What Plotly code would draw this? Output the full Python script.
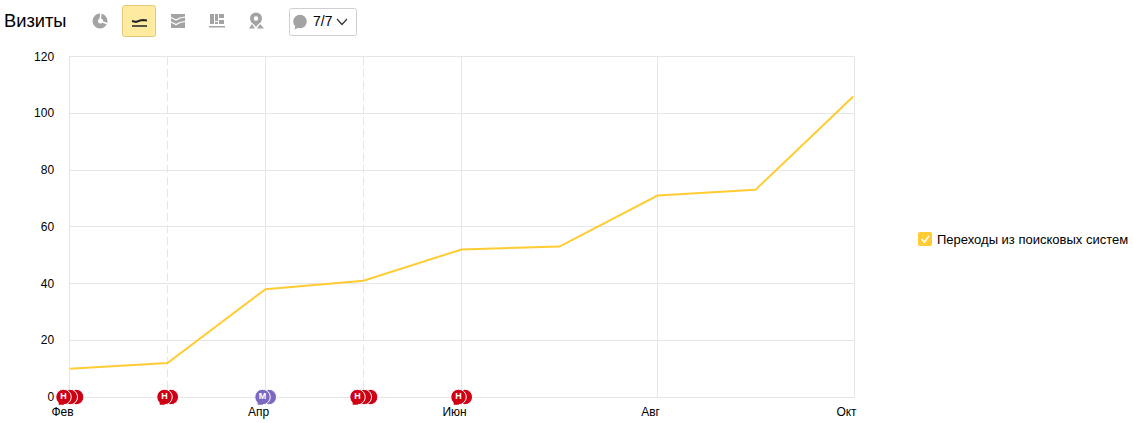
import plotly.graph_objects as go

months = ["Фев", "Мар", "Апр", "Май", "Июн", "Июл", "Авг", "Сен", "Окт"]
visits = [10, 12, 38, 41, 52, 53, 71, 73, 106]
labelled_months = [0, 2, 4, 6, 8]
dashed_months = [1, 3]
y_ticks = [0, 20, 40, 60, 80, 100, 120]
series_name = "Переходы из поисковых систем"
note_month = [0, 1, 2, 3, 4]
note_count = [3, 2, 2, 3, 2]
note_letter = ["Н", "Н", "М", "Н", "Н"]
note_color = ["#cf0014", "#cf0014", "#7b68c0", "#cf0014", "#cf0014"]

W, H = 1133, 423
L, R, T, B = 69.5, 853.5, 56.5, 397
YMAX = y_ticks[-1]
def px(x): return x / W
def py(y): return 1 - y / H

YELLOW = "#ffcc33"
GRID = "#e6e6e6"
GREY = "#a3a3a3"

ux = (R - L) / (len(months) - 1)   # pixels per month
uy = (B - T) / YMAX                # pixels per visit

fig = go.Figure()
fig.add_trace(go.Scatter(x=list(range(len(months))), y=visits, mode="lines",
                         line=dict(color=YELLOW, width=2), showlegend=False, hoverinfo="skip",
                         cliponaxis=False))

# Note bubbles sit on a transparent overlay axis pair with the same scale as the main
# axes but spanning the whole page, so they may overhang the plot area.
for m, n, letter, col in zip(note_month, note_count, note_letter, note_color):
    start = m - (n - 1) * 3 / ux
    xs = [start + i * 6.3 / ux for i in reversed(range(n))]
    common = dict(xaxis="x2", yaxis="y2", showlegend=False, hoverinfo="skip")
    fig.add_trace(go.Scatter(x=xs, y=[0] * n, mode="markers", **common,
                             marker=dict(size=15.5, color=col, line=dict(color="white", width=1))))
    fig.add_trace(go.Scatter(x=[start - 3 / ux], y=[-6 / uy], mode="markers", **common,
                             marker=dict(symbol="triangle-sw", size=6, color=col, line=dict(width=0))))
    fig.add_trace(go.Scatter(x=[start], y=[0], mode="text", text=[f"<b>{letter}</b>"], **common,
                             textfont=dict(color="white", size=9, family="Liberation Sans"),
                             textposition="middle center"))

shapes = []
def rect(x0, y0, x1, y1, fill):
    shapes.append(dict(type="rect", xref="paper", yref="paper", x0=px(x0), x1=px(x1), y0=py(y0), y1=py(y1),
                       fillcolor=fill, line=dict(width=0), layer="above"))
def rrect(x0, y0, x1, y1, r, fill, line=None, w=1):
    d = (f"M{px(x0+r)},{py(y0)} L{px(x1-r)},{py(y0)} Q{px(x1)},{py(y0)} {px(x1)},{py(y0+r)} "
         f"L{px(x1)},{py(y1-r)} Q{px(x1)},{py(y1)} {px(x1-r)},{py(y1)} L{px(x0+r)},{py(y1)} "
         f"Q{px(x0)},{py(y1)} {px(x0)},{py(y1-r)} L{px(x0)},{py(y0+r)} Q{px(x0)},{py(y0)} {px(x0+r)},{py(y0)} Z")
    shapes.append(dict(type="path", xref="paper", yref="paper", path=d, fillcolor=fill,
                       line=dict(color=line or fill, width=w if line else 0), layer="above"))
def poly(pts, color, width=2, fill=None, close=False):
    d = "M" + " L".join(f"{px(x)},{py(y)}" for x, y in pts) + (" Z" if close else "")
    shapes.append(dict(type="path", xref="paper", yref="paper", path=d,
                       fillcolor=fill if fill else "rgba(0,0,0,0)",
                       line=dict(color=color, width=width), layer="above"))
def circle(cx, cy, r, fill):
    shapes.append(dict(type="circle", xref="paper", yref="paper", x0=px(cx-r), x1=px(cx+r), y0=py(cy+r), y1=py(cy-r),
                       fillcolor=fill, line=dict(width=0), layer="above"))

# pie icon
circle(100, 21, 7.5, GREY)
circle(100.5, 21, 2.5, "white")
poly([(100, 21), (101, 13), (103, 13)], "white", 1.5)
poly([(100, 21), (108, 24)], "white", 1.5)
# active line button
rrect(122.5, 5.5, 155.5, 36.5, 2, "#ffeba0", "#e2c877")
poly([(132, 21), (136, 22), (140, 20.5), (143, 20), (147, 20.5)], "#222222", 2)
poly([(132, 26), (147, 26)], "#222222", 1.5)
# stacked area icon
rect(171, 14, 185, 28, GREY)
for y in (18.5, 23):
    poly([(171, y - 1), (176, y + 1.5), (180, y - 0.5), (185, y - 1.5)], "white", 1.2)
# bar icon
rect(210, 14, 214, 24, GREY)
rect(215, 14, 218, 21, GREY)
rect(215, 22, 218, 24, GREY)
rect(219, 14, 224, 18, GREY)
rect(219, 20, 224, 24, GREY)
rect(209, 26, 225, 27.5, GREY)
# map pin icon
circle(256, 18.5, 6, GREY)
circle(256, 18.5, 2.3, "white")
poly([(251, 21), (256, 27), (261, 21)], GREY, 0, GREY, True)
poly([(249, 28.5), (252, 24), (255, 28.5)], GREY, 0, GREY, True)
poly([(257, 28.5), (260, 24), (264, 28.5)], GREY, 0, GREY, True)
# notes button
rrect(289.5, 8.5, 356.5, 35.5, 2, "white", "#cfcfcf")
circle(300, 21.5, 6.8, GREY)
poly([(294.5, 29.5), (296, 24), (300, 27)], GREY, 0, GREY, True)
poly([(337, 19), (342, 24.5), (347, 19)], "#333333", 1.2)
# legend checkbox
rrect(918, 232, 932, 246, 2, YELLOW)
poly([(921.5, 239), (924.5, 242), (929, 236)], "white", 1.6)

def label(text, x, y, size):
    return dict(text=text, x=px(x), y=py(y), xref="paper", yref="paper", xanchor="left", yanchor="middle",
                showarrow=False, font=dict(size=size, color="#000000"), borderpad=0)

annotations = [
    label("Визиты", 3, 21, 18.3),
    label("7/7", 312, 21, 14),
    label(series_name, 936, 239.5, 13),
]

hidden = dict(visible=False, showgrid=False, zeroline=False, domain=[0, 1], automargin=False)
fig.update_layout(
    width=W, height=H, autosize=False,
    margin=dict(l=0, r=0, t=0, b=0, pad=0, autoexpand=False),
    paper_bgcolor="white", plot_bgcolor="rgba(0,0,0,0)",
    font=dict(family="Liberation Sans, Arial, sans-serif", size=12, color="#000000"),
    shapes=shapes, annotations=annotations, showlegend=False,
    xaxis=dict(domain=[px(L), px(R)], range=[0, len(months) - 1], tickmode="array", tickvals=labelled_months,
               ticktext=[months[i] for i in labelled_months], showgrid=True, gridcolor=GRID, gridwidth=1,
               zeroline=False, showline=True, mirror=True, linecolor=GRID, linewidth=1, ticks="",
               ticklabelshift=-7, ticklabelstandoff=4, tickfont=dict(size=12), automargin=False,
               minor=dict(tickmode="array", tickvals=dashed_months, showgrid=True, gridcolor=GRID,
                          griddash="8px,4px", gridwidth=1, ticks="")),
    yaxis=dict(domain=[py(B), py(T)], range=[0, YMAX], tickmode="array", tickvals=y_ticks, showgrid=True,
               gridcolor=GRID, gridwidth=1, zeroline=False, showline=True, mirror=True, linecolor=GRID,
               linewidth=1, ticks="", ticklabelstandoff=12, tickfont=dict(size=12), automargin=False),
    xaxis2=dict(hidden, anchor="y2", range=[-L / ux, (W - L) / ux]),
    yaxis2=dict(hidden, anchor="x2", range=[-(H - B) / uy, B / uy]),
)
fig.write_html("out.html", post_script="document.body.style.margin='0';", config=dict(displayModeBar=False))
